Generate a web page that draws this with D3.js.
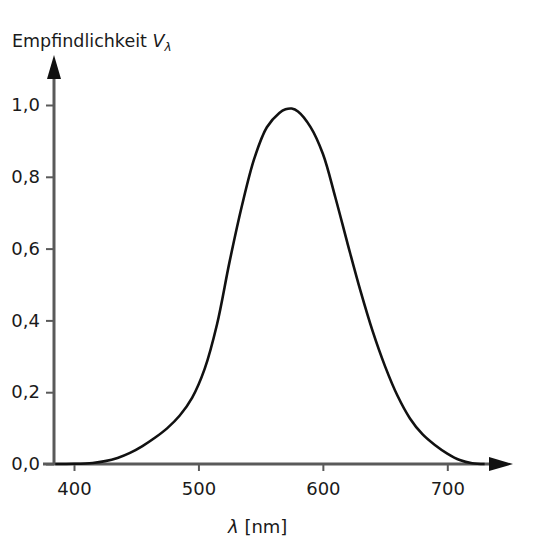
<!DOCTYPE html>
<html>
<head>
<meta charset="utf-8">
<script src="https://cdn.jsdelivr.net/npm/d3@7"></script>
<style>
html,body{margin:0;padding:0;background:#fff;}
svg{display:block;}
text{font-family:"DejaVu Sans",sans-serif;fill:#1a1a1a;}
</style>
</head>
<body>
<svg id="chart" width="554" height="560"></svg>
<script>
const wavelengths = [385,400,415,425,435,445,455,465,475,485,495,505,515,525,535,545,555,565,570,575,580,590,600,610,620,630,640,650,660,670,680,690,700,710,720,730];
const sensitivity = [0,0.0005,0.003,0.008,0.017,0.031,0.05,0.073,0.1,0.135,0.185,0.265,0.39,0.563,0.72,0.852,0.938,0.978,0.988,0.99,0.982,0.939,0.864,0.743,0.612,0.485,0.37,0.272,0.19,0.127,0.083,0.053,0.029,0.011,0.002,0];
const xTicks = [400,500,600,700];
const yTicks = [0,0.2,0.4,0.6,0.8,1.0];
const yTitle = "Empfindlichkeit ";
const xTitle = " [nm]";

const svg = d3.select("#chart");
const x = d3.scaleLinear().domain([400,700]).range([74,447.3]);
const y = d3.scaleLinear().domain([0,1]).range([464,105]);
const fmt = d => d3.format(".1f")(d).replace(".", ",");

const axisColor = "#5a5a5a";
const ax0 = 54;

// y axis ticks and labels
const gy = svg.append("g").attr("transform", `translate(${ax0},0)`)
  .call(d3.axisLeft(y).tickValues(yTicks).tickFormat(fmt).tickSize(8).tickPadding(6));
gy.select(".domain").remove();
gy.selectAll(".tick line").attr("stroke", axisColor).attr("stroke-width", 2);
gy.selectAll(".tick text").attr("font-size", 18).attr("fill", "#1a1a1a").attr("font-family", null);

// x axis ticks and labels
const gx = svg.append("g").attr("transform", `translate(0,${y(0)})`)
  .call(d3.axisBottom(x).tickValues(xTicks).tickFormat(d3.format("d")).tickSize(7).tickPadding(11));
gx.select(".domain").remove();
gx.selectAll(".tick line").attr("stroke", axisColor).attr("stroke-width", 2);
gx.selectAll(".tick text").attr("font-size", 18).attr("fill", "#1a1a1a").attr("font-family", null);

// axis lines with arrows
svg.append("line").attr("x1", ax0 - 11).attr("x2", 500).attr("y1", y(0)).attr("y2", y(0))
  .attr("stroke", axisColor).attr("stroke-width", 3);
svg.append("line").attr("x1", ax0).attr("x2", ax0).attr("y1", y(0)).attr("y2", 68)
  .attr("stroke", axisColor).attr("stroke-width", 3);
svg.append("path").attr("d", `M${ax0},55 L${ax0-7},79 L${ax0+7},79 Z`).attr("fill", "#111");
svg.append("path").attr("d", `M513,${y(0)} L489,${y(0)-7} L489,${y(0)+7} Z`).attr("fill", "#111");

// curve
const line = d3.line().x((d,i) => x(wavelengths[i])).y(d => y(d)).curve(d3.curveCatmullRom.alpha(0.5));
svg.append("path").datum(sensitivity).attr("d", line)
  .attr("fill", "none").attr("stroke", "#111").attr("stroke-width", 2.6);

// titles
const t1 = svg.append("text").attr("x", 12).attr("y", 47).attr("font-size", 17.5);
t1.append("tspan").text(yTitle);
t1.append("tspan").attr("font-style", "italic").text("V");
t1.append("tspan").attr("font-style", "italic").attr("font-size", 12).attr("dy", 4).text("λ");

const t2 = svg.append("text").attr("x", 228).attr("y", 533).attr("font-size", 18);
t2.append("tspan").attr("font-style", "italic").text("λ");
t2.append("tspan").text(xTitle);
</script>
</body>
</html>
